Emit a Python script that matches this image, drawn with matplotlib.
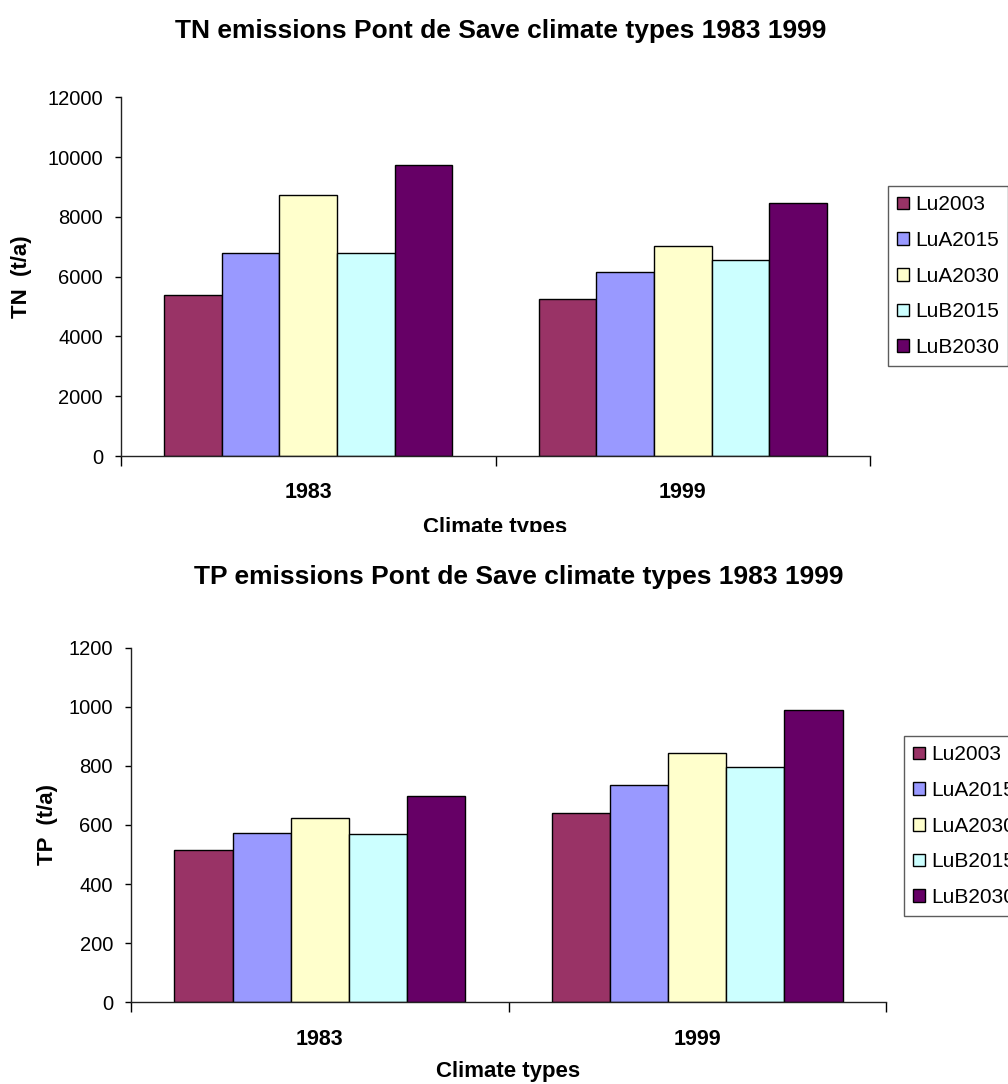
import numpy as np
import matplotlib
matplotlib.use("Agg")
import matplotlib.pyplot as plt
from matplotlib.patches import Rectangle

plt.rcParams['font.family'] = ['Liberation Sans', 'DejaVu Sans']

# Data
climate_years = ["1983", "1999"]
scenarios = ["Lu2003", "LuA2015", "LuA2030", "LuB2015", "LuB2030"]
colors = ["#993366", "#9999FF", "#FFFFCC", "#CCFFFF", "#660066"]

tn_values = {
    "Lu2003":  [5370, 5260],
    "LuA2015": [6800, 6160],
    "LuA2030": [8720, 7020],
    "LuB2015": [6790, 6550],
    "LuB2030": [9730, 8480],
}
tp_values = {
    "Lu2003":  [514, 639],
    "LuA2015": [572, 735],
    "LuA2030": [622, 842],
    "LuB2015": [570, 797],
    "LuB2030": [697, 989],
}

W, H = 1008, 1084
fig = plt.figure(figsize=(W / 100, H / 100), dpi=100)
fig.set_facecolor("white")

TICK_FS = 14.5
LEG_FS = 15
LABEL_FS = 16
TITLE_FS = 19


def bar_panel(rect, values, ymax, ystep, ylabel, ylabel_x, title, title_xy,
              legend_anchor, xlabel_y):
    ax = fig.add_axes(rect)
    x = np.arange(len(climate_years))
    n = len(scenarios)
    group = 0.77
    bw = group / n
    for i, (name, c) in enumerate(zip(scenarios, colors)):
        offs = -group / 2 + bw * (i + 0.5)
        ax.bar(x + offs, values[name], width=bw, color=c, edgecolor="black",
               linewidth=1.0, label=name, zorder=2)

    ax.set_xlim(-0.5, len(climate_years) - 0.5)
    ax.set_ylim(0, ymax)
    ax.set_yticks(np.arange(0, ymax + 1, ystep))
    ax.tick_params(axis="y", direction="out", length=4, width=1,
                   labelsize=TICK_FS, pad=9)
    ax.set_xticks(x)
    ax.set_xticklabels(climate_years, fontsize=LABEL_FS - 0.5, fontweight="bold")
    ax.tick_params(axis="x", which="major", length=0, pad=19)
    ax.set_xticks(np.arange(-0.5, len(climate_years)), minor=True)
    ax.tick_params(axis="x", which="minor", direction="out", length=7, width=1)

    for s in ["top", "right"]:
        ax.spines[s].set_visible(False)
    for s in ["left", "bottom"]:
        ax.spines[s].set_linewidth(1)
        ax.spines[s].set_color("#222222")

    ymid = rect[1] + rect[3] / 2
    fig.text(ylabel_x / W, ymid, ylabel, rotation=90, fontsize=LABEL_FS,
             fontweight="bold", ha="center", va="center")
    fig.text(title_xy[0] / W, 1 - title_xy[1] / H, title, fontsize=TITLE_FS,
             fontweight="bold", ha="center", va="center")
    xmid = (rect[0] + rect[2] / 2)
    fig.text(xmid, 1 - xlabel_y / H, "Climate types", fontsize=LABEL_FS,
             fontweight="bold", ha="center", va="center")

    leg = fig.legend(*ax.get_legend_handles_labels(), loc="upper left",
                     bbox_to_anchor=(legend_anchor[0] / W, 1 - legend_anchor[1] / H),
                     fontsize=LEG_FS, frameon=True, fancybox=False, shadow=False,
                     handlelength=0.55, handleheight=0.55, handletextpad=0.3,
                     labelspacing=0.8, borderpad=0.45, borderaxespad=0)
    leg.get_frame().set_edgecolor("#333333")
    leg.get_frame().set_linewidth(1)
    return ax


# TN panel
bar_panel([121 / W, 1 - 456 / H, 749 / W, 358.7 / H], tn_values, 12000, 2000,
          "TN  (t/a)", 22, "TN emissions Pont de Save climate types 1983 1999",
          (501, 31), (888, 186), 527)

# TP panel
bar_panel([131 / W, 1 - 1002.3 / H, 755 / W, 354.7 / H], tp_values, 1200, 200,
          "TP  (t/a)", 47, "TP emissions Pont de Save climate types 1983 1999",
          (519, 577), (904, 736), 1072)

# the upper panel's area ends just under its axis title
fig.add_artist(Rectangle((0, 1 - 548 / H), 1, 16 / H, transform=fig.transFigure,
                         facecolor="white", edgecolor="none", zorder=20))

fig.savefig("out.png", dpi=100, facecolor="white")
